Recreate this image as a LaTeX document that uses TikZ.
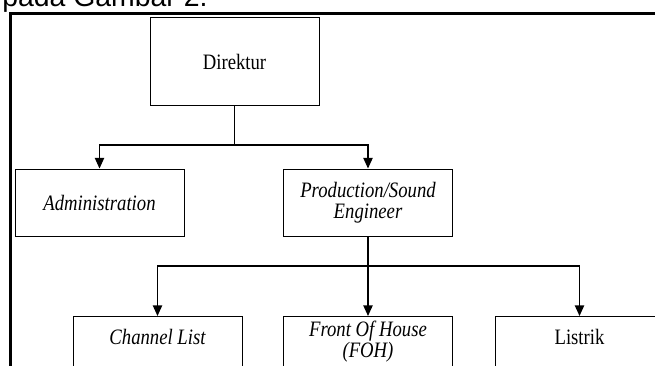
\documentclass[tikz,border=0pt]{standalone}
\usepackage{fontspec}
\setmainfont{Liberation Serif}[FakeStretch=0.85]
\newfontfamily\capfont{Liberation Sans}
\usetikzlibrary{arrows.meta,positioning}

\begin{document}
\begin{tikzpicture}[x=0.75pt, y=0.75pt,
  orgbox/.style={draw, line width=0.75pt, inner sep=0pt, minimum width=126.75pt,
    font=\fontsize{16.5}{16}\selectfont, align=center},
  lowbox/.style={orgbox, anchor=north, text depth=45pt},
  link/.style={line width=1pt},
  arr/.style={link, -{Triangle[width=7pt,length=8pt]}}]
\useasboundingbox (0,0) rectangle (655,365);
\clip (0,0) rectangle (655,365);

% caption line and frame
\node[anchor=base west, inner sep=0pt, font=\capfont\fontsize{21.3}{24}\selectfont] (caption) at (2,358) {pada Gambar 2.};
\draw[line width=2.25pt] (10.5,-10) -- (10.5,351.5) -- (680,351.5);

% top level
\node[orgbox, minimum height=65.25pt] (dir) at (234.5,303.5) {Direktur};

% second level
\node[orgbox, minimum height=50.25pt] (adm) at (99.5,162.5) {\itshape Administration};
\node[orgbox, minimum height=50.25pt] (prod) at (368,162.5) {\itshape Production/Sound\\\itshape Engineer};

% third level (cut at the bottom)
\node[lowbox, text height=21pt] (chan) at (157.5,49) {\itshape Channel List};
\node[lowbox, text height=30.75pt] (foh) at (368,49) {\itshape Front Of House\\\itshape (FOH)};
\node[lowbox, text height=21pt] (lis) at (579.5,49) {Listrik};

% connectors
\coordinate (split1) at (234.5,220);
\coordinate (split2) at (368,99);
\draw[link] (dir.south) -- (split1);
\draw[arr] (split1) -| (adm.north);
\draw[arr] (split1) -| (prod.north);
\draw[link] (prod.south) -- (split2);
\draw[arr] (split2) -| (chan.north);
\draw[arr] (split2) -- (foh.north);
\draw[arr] (split2) -| (lis.north);
\end{tikzpicture}
\end{document}
